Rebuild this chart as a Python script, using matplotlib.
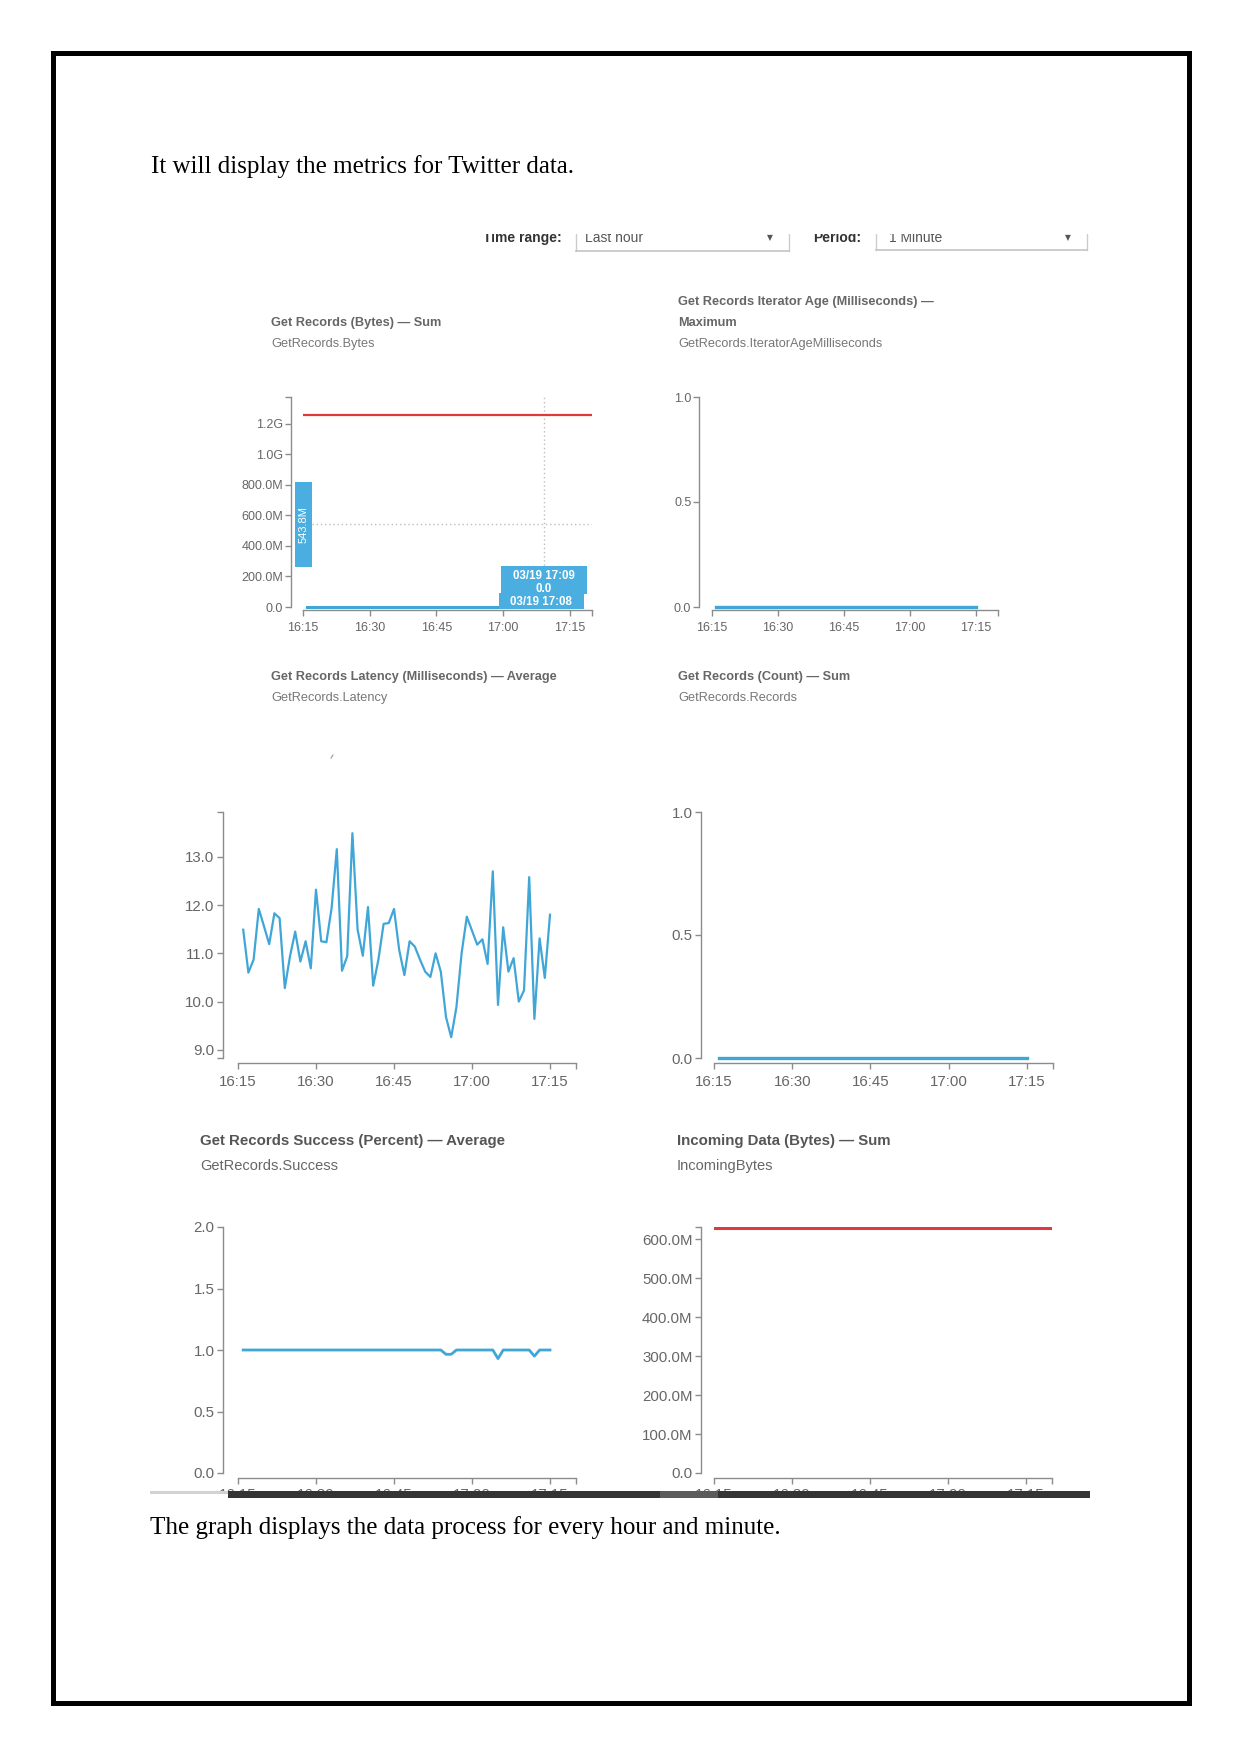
import numpy as np
import matplotlib
matplotlib.use('Agg')
import matplotlib.pyplot as plt
from matplotlib.patches import Rectangle
from matplotlib.lines import Line2D

SANS = ['Liberation Sans', 'DejaVu Sans']
SERIF = ['Liberation Serif', 'DejaVu Serif']
plt.rcParams['font.family'] = SANS

# ---------------- data ----------------
time_ticks = [15, 30, 45, 60, 75]                 # minutes after 16:00
time_labels = ['16:15', '16:30', '16:45', '17:00', '17:15']
minutes = np.arange(16, 76)                       # 16:16 ... 17:15, period 1 minute

getrecords_bytes = [0, 0, 0, 0, 0, 0, 0, 0, 0, 0, 0, 0, 0, 0, 0, 0, 0, 0, 0, 0,
                    0, 0, 0, 0, 0, 0, 0, 0, 0, 0, 0, 0, 0, 0, 0, 0, 0, 0, 0, 0,
                    0, 0, 0, 0, 0, 0, 0, 0, 0, 0, 0, 0, 0, 0, 0, 0, 0, 0, 0, 0]
bytes_threshold = 1.26e9
bytes_ticks = [0, 2e8, 4e8, 6e8, 8e8, 1.0e9, 1.2e9]
bytes_labels = ['0.0', '200.0M', '400.0M', '600.0M', '800.0M', '1.0G', '1.2G']
tip_value = 543.8e6
tip_minute = 69.2

iterator_age = [0, 0, 0, 0, 0, 0, 0, 0, 0, 0, 0, 0, 0, 0, 0, 0, 0, 0, 0, 0,
                0, 0, 0, 0, 0, 0, 0, 0, 0, 0, 0, 0, 0, 0, 0, 0, 0, 0, 0, 0,
                0, 0, 0, 0, 0, 0, 0, 0, 0, 0, 0, 0, 0, 0, 0, 0, 0, 0, 0, 0]
unit_ticks = [0.0, 0.5, 1.0]
unit_labels = ['0.0', '0.5', '1.0']

latency = [11.49, 10.60, 10.87, 11.92, 11.56, 11.19, 11.83, 11.73, 10.28, 10.94,
           11.45, 10.83, 11.25, 10.69, 12.32, 11.25, 11.23, 11.94, 13.16, 10.64,
           10.94, 13.49, 11.49, 10.95, 11.96, 10.33, 10.87, 11.61, 11.63, 11.92,
           11.07, 10.55, 11.25, 11.14, 10.87, 10.62, 10.51, 11.00, 10.62, 9.68,
           9.26, 9.88, 11.00, 11.76, 11.47, 11.18, 11.29, 10.78, 12.70, 9.93,
           11.54, 10.62, 10.90, 10.00, 10.23, 12.58, 9.64, 11.31, 10.49, 11.80]
latency_ticks = [9, 10, 11, 12, 13]
latency_labels = ['9.0', '10.0', '11.0', '12.0', '13.0']

records_count = [0, 0, 0, 0, 0, 0, 0, 0, 0, 0, 0, 0, 0, 0, 0, 0, 0, 0, 0, 0,
                 0, 0, 0, 0, 0, 0, 0, 0, 0, 0, 0, 0, 0, 0, 0, 0, 0, 0, 0, 0,
                 0, 0, 0, 0, 0, 0, 0, 0, 0, 0, 0, 0, 0, 0, 0, 0, 0, 0, 0, 0]

success = [1, 1, 1, 1, 1, 1, 1, 1, 1, 1, 1, 1, 1, 1, 1, 1, 1, 1, 1, 1,
           1, 1, 1, 1, 1, 1, 1, 1, 1, 1, 1, 1, 1, 1, 1, 1, 1, 1, 1, 0.965,
           0.965, 1, 1, 1, 1, 1, 1, 1, 1, 0.93, 1, 1, 1, 1, 1, 1, 0.95, 1, 1, 1]
success_ticks = [0.0, 0.5, 1.0, 1.5, 2.0]
success_labels = ['0.0', '0.5', '1.0', '1.5', '2.0']

incoming_threshold = 628e6
incoming_ticks = [0, 1e8, 2e8, 3e8, 4e8, 5e8, 6e8]
incoming_labels = ['0.0', '100.0M', '200.0M', '300.0M', '400.0M', '500.0M', '600.0M']

# ---------------- figure ----------------
W, H = 1241, 1754
fig = plt.figure(figsize=(W / 100, H / 100), dpi=100)
fig.patch.set_facecolor('white')
PT = 0.72  # points per pixel

BLUE = '#40a6d7'
RED = '#dd3a40'
TIP = '#4aafe0'
AXC = '#8c8c8c'


def px_axes(l, t, r, b):
    return fig.add_axes([l / W, 1 - b / H, (r - l) / W, (b - t) / H])


def ftext(x, y, s, **kw):
    return fig.text(x / W, 1 - y / H, s, **kw)


def frect(l, t, r, b, color, z=10):
    fig.add_artist(Rectangle((l / W, 1 - b / H), (r - l) / W, (b - t) / H,
                             transform=fig.transFigure, fc=color, ec='none', zorder=z))


def fline(x0, y0, x1, y1, **kw):
    fig.add_artist(Line2D([x0 / W, x1 / W], [1 - y0 / H, 1 - y1 / H],
                          transform=fig.transFigure, **kw))


def style(ax, ylim, yticks, ylabels, yoff, xoff, fs, pady, padx):
    ax.set_xlim(15, 80)
    ax.set_ylim(*ylim)
    ax.patch.set_alpha(0)
    for s in ['top', 'right']:
        ax.spines[s].set_visible(False)
    ax.spines['left'].set_position(('outward', yoff * PT))
    ax.spines['bottom'].set_position(('outward', xoff * PT))
    for s in ['left', 'bottom']:
        ax.spines[s].set_color(AXC)
        ax.spines[s].set_linewidth(1.0)
    ax.set_xticks(time_ticks)
    ax.set_xticklabels(time_labels)
    ax.set_yticks(yticks)
    ax.set_yticklabels(ylabels)
    ax.set_xticks([80], minor=True)
    ends = [v for v in ylim if min(abs(v - t) for t in yticks) > 1e-9 * max(1, abs(v))]
    ax.set_yticks(ends, minor=True)
    ax.tick_params(which='both', length=6 * PT, width=1.0, color=AXC)
    ax.tick_params(axis='y', which='major', labelsize=fs, labelcolor='#666666', pad=pady)
    ax.tick_params(axis='x', which='major', labelsize=fs, labelcolor='#666666', pad=padx)
    ax.tick_params(which='minor', labelleft=False, labelbottom=False)


# ---------- body text ----------
ftext(151, 173, 'It will display the metrics for Twitter data.', family=SERIF,
      fontsize=18, va='baseline', ha='left', color='black')
ftext(150, 1534, 'The graph displays the data process for every hour and minute.',
      family=SERIF, fontsize=18, va='baseline', ha='left', color='black')

# ---------- top controls (cut at the top) ----------
ftext(483, 242, 'Time range:', fontsize=10, fontweight='bold', color='#333333', va='baseline')
ftext(585, 242, 'Last hour', fontsize=10, color='#555555', va='baseline')
ftext(770, 238, '\u25bc', fontsize=5.5, color='#555555', va='center', ha='center', family=['DejaVu Sans'])
ftext(813, 242, 'Period:', fontsize=10, fontweight='bold', color='#333333', va='baseline')
ftext(889, 242, '1 Minute', fontsize=10, color='#555555', va='baseline')
ftext(1068, 238, '\u25bc', fontsize=5.5, color='#555555', va='center', ha='center', family=['DejaVu Sans'])
for l, r, b in [(576, 789, 251), (876, 1087, 250)]:
    fline(l, 225, l, b, color='#cccccc', lw=1)
    fline(r, 225, r, b, color='#cccccc', lw=1)
    fline(l, b, r, b, color='#c4c4c4', lw=1.2)
frect(60, 188, 1180, 234.5, 'white', z=20)

# ---------- titles ----------
TC1, SC1 = '#666666', '#777777'
ftext(271, 323, 'Get Records (Bytes) \u2014 Sum', fontsize=9.2, fontweight='bold', color=TC1, va='center')
ftext(271, 344, 'GetRecords.Bytes', fontsize=9.2, color=SC1, va='center')
ftext(678, 302, 'Get Records Iterator Age (Milliseconds) \u2014', fontsize=9.2, fontweight='bold', color=TC1, va='center')
ftext(678, 323, 'Maximum', fontsize=9.2, fontweight='bold', color=TC1, va='center')
ftext(678, 344, 'GetRecords.IteratorAgeMilliseconds', fontsize=9.2, color=SC1, va='center')
ftext(271, 677, 'Get Records Latency (Milliseconds) \u2014 Average', fontsize=9.2, fontweight='bold', color=TC1, va='center')
ftext(271, 698, 'GetRecords.Latency', fontsize=9.2, color=SC1, va='center')
ftext(678, 677, 'Get Records (Count) \u2014 Sum', fontsize=9.2, fontweight='bold', color=TC1, va='center')
ftext(678, 698, 'GetRecords.Records', fontsize=9.2, color=SC1, va='center')
ftext(200, 1141, 'Get Records Success (Percent) \u2014 Average', fontsize=10.8, fontweight='bold', color='#555555', va='center')
ftext(200, 1166, 'GetRecords.Success', fontsize=10.5, color='#666666', va='center')
ftext(677, 1141, 'Incoming Data (Bytes) \u2014 Sum', fontsize=10.8, fontweight='bold', color='#555555', va='center')
ftext(677, 1166, 'IncomingBytes', fontsize=10.5, color='#666666', va='center')
fline(331, 758, 333, 755, color='#999999', lw=0.8)

# ---------- panel 1: GetRecords.Bytes ----------
ax1 = px_axes(303, 397, 592, 607)
style(ax1, (0, 1.377e9), bytes_ticks, bytes_labels, 12, 3, 9, 1.2, 4.0)
ax1.axhline(bytes_threshold, color=RED, lw=1.6, zorder=3)
ax1.plot(minutes, getrecords_bytes, color=BLUE, lw=2.2, zorder=3, clip_on=False)
ax1.axvline(tip_minute, color='#bdbdbd', ls=(0, (1, 2)), lw=1, zorder=1)
ax1.hlines(tip_value, 17.0, 80, color='#bdbdbd', linestyles=[(0, (1, 2))], lw=1, zorder=1)
ax1.add_patch(Rectangle((13.2, 262e6), 3.8, 557e6, fc=TIP, ec='none', zorder=6, clip_on=False))
ax1.text(15.1, tip_value, '543.8M', rotation=90, color='white', fontsize=8, ha='center', va='center',
         zorder=7, clip_on=False)
ax1.add_patch(Rectangle((59.0, -13e6), 19.1, 105e6, fc=TIP, ec='none', zorder=6, clip_on=False))
ax1.text(68.6, 36e6, '03/19 17:08', color='white', fontsize=8.3, fontweight='bold', ha='center',
         va='center', zorder=7, clip_on=False)
ax1.add_patch(Rectangle((59.5, 85e6), 19.3, 184e6, fc=TIP, ec='none', zorder=8, clip_on=False))
ax1.text(tip_minute, 203e6, '03/19 17:09', color='white', fontsize=8.3, fontweight='bold', ha='center',
         va='center', zorder=9, clip_on=False)
ax1.text(tip_minute, 118e6, '0.0', color='white', fontsize=8.3, fontweight='bold', ha='center',
         va='center', zorder=9, clip_on=False)

# ---------- panel 2: IteratorAge ----------
ax2 = px_axes(712, 397, 998, 607)
style(ax2, (0, 1.0), unit_ticks, unit_labels, 13, 3, 9, 1.2, 4.0)
ax2.plot(minutes, iterator_age, color=BLUE, lw=2.4, zorder=3, clip_on=False)

# ---------- panel 3: Latency ----------
ax3 = px_axes(238, 812, 576, 1058)
style(ax3, (8.83, 13.93), latency_ticks, latency_labels, 15, 5, 10.8, 1.8, 4.5)
ax3.plot(minutes, latency, color=BLUE, lw=1.6, zorder=3)

# ---------- panel 4: Records ----------
ax4 = px_axes(714, 812, 1053, 1058)
style(ax4, (0, 1.0), unit_ticks, unit_labels, 13, 5, 10.8, 1.8, 4.5)
ax4.plot(minutes, records_count, color=BLUE, lw=2.4, zorder=3, clip_on=False)

# ---------- panel 5: Success ----------
ax5 = px_axes(238, 1227, 576, 1473)
style(ax5, (0, 2.0), success_ticks, success_labels, 15, 5, 10.8, 1.8, 3.0)
ax5.plot(minutes, success, color=BLUE, lw=2.0, zorder=3)

# ---------- panel 6: Incoming ----------
ax6 = px_axes(714, 1227, 1052, 1473)
style(ax6, (0, 631e6), incoming_ticks, incoming_labels, 13, 5, 10.8, 1.8, 3.0)
ax6.axhline(incoming_threshold, color=RED, lw=2.2, zorder=3)

# ---------- screenshot bottom edge ----------
frect(140, 1492, 1180, 1515, 'white', z=20)
frect(150, 1491, 228, 1494, '#d2d2d2', z=21)
frect(228, 1491, 1090, 1498, '#353535', z=21)
frect(660, 1491, 718, 1498, '#5c5c5c', z=22)

# ---------- page frame ----------
fig.add_artist(Rectangle((52.5 / W, 1 - 1702.5 / H), (1188.5 - 52.5) / W, (1702.5 - 52.5) / H,
                         fill=False, ec='black', lw=5 * PT, transform=fig.transFigure, zorder=30))

fig.savefig('out.png', dpi=100, facecolor='white')
